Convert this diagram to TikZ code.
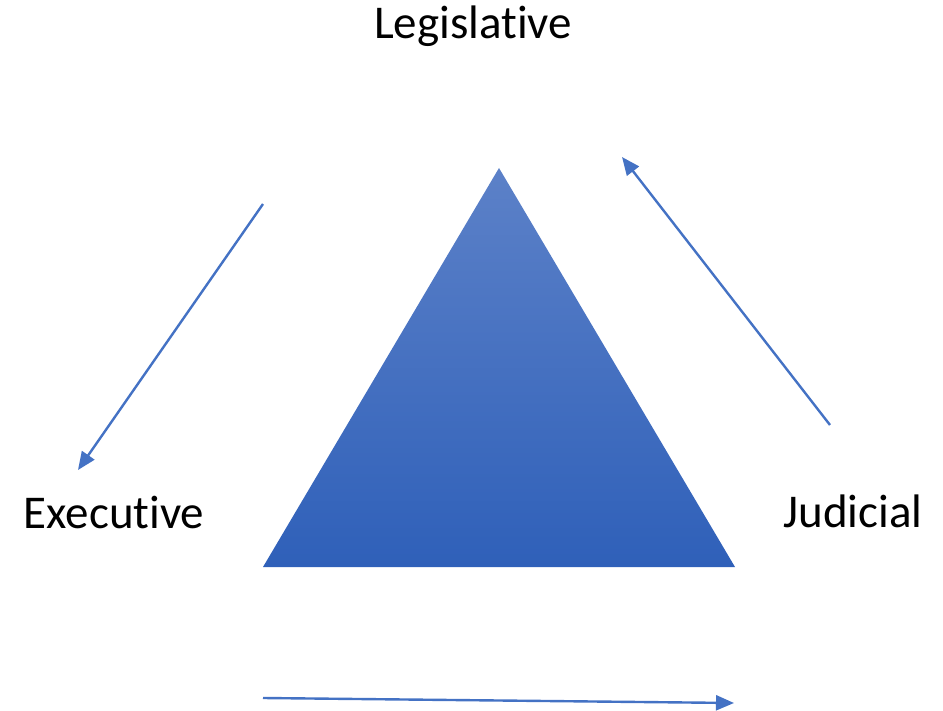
\documentclass[tikz,border=0pt]{standalone}
\usepackage{fontspec}
\setmainfont[Ligatures={NoCommon,NoContextual}]{Carlito}
\usetikzlibrary{arrows.meta}
\colorlet{fg}{black}
\definecolor{arrowblue}{RGB}{68,114,196}
\definecolor{tritop}{RGB}{92,129,200}
\definecolor{tribot}{RGB}{47,96,185}
\tikzset{branch/.style={font=\fontsize{47}{56}\selectfont,text=fg,anchor=base,inner sep=0pt}}
\tikzset{check/.style={draw=arrowblue,line width=2.4pt,-{Triangle[length=18pt,width=15pt]}}}

\begin{document}
\begin{tikzpicture}[x=1pt,y=-1pt]
	    \useasboundingbox (0,0) rectangle (943,711);
	    \shade[top color=tritop,bottom color=tribot] (499,168) -- (263,567) -- (735,567) -- cycle;
	    \node[branch] (leg) at (473,39) {Legislative};
	    \node[branch] (exe) at (114,528) {Executive};
	    \node[branch] (jud) at (853,527) {Judicial};
	    \coordinate (a1) at (263,204);
	    \coordinate (b1) at (78,470);
	    \coordinate (a2) at (830,425);
	    \coordinate (b2) at (622,157);
	    \coordinate (a3) at (263,698);
	    \coordinate (b3) at (734,703);
	    \draw[check] (a1) -- (b1);
	    \draw[check] (a2) -- (b2);
	    \draw[check] (a3) -- (b3);
        \end{tikzpicture}
\end{document}
